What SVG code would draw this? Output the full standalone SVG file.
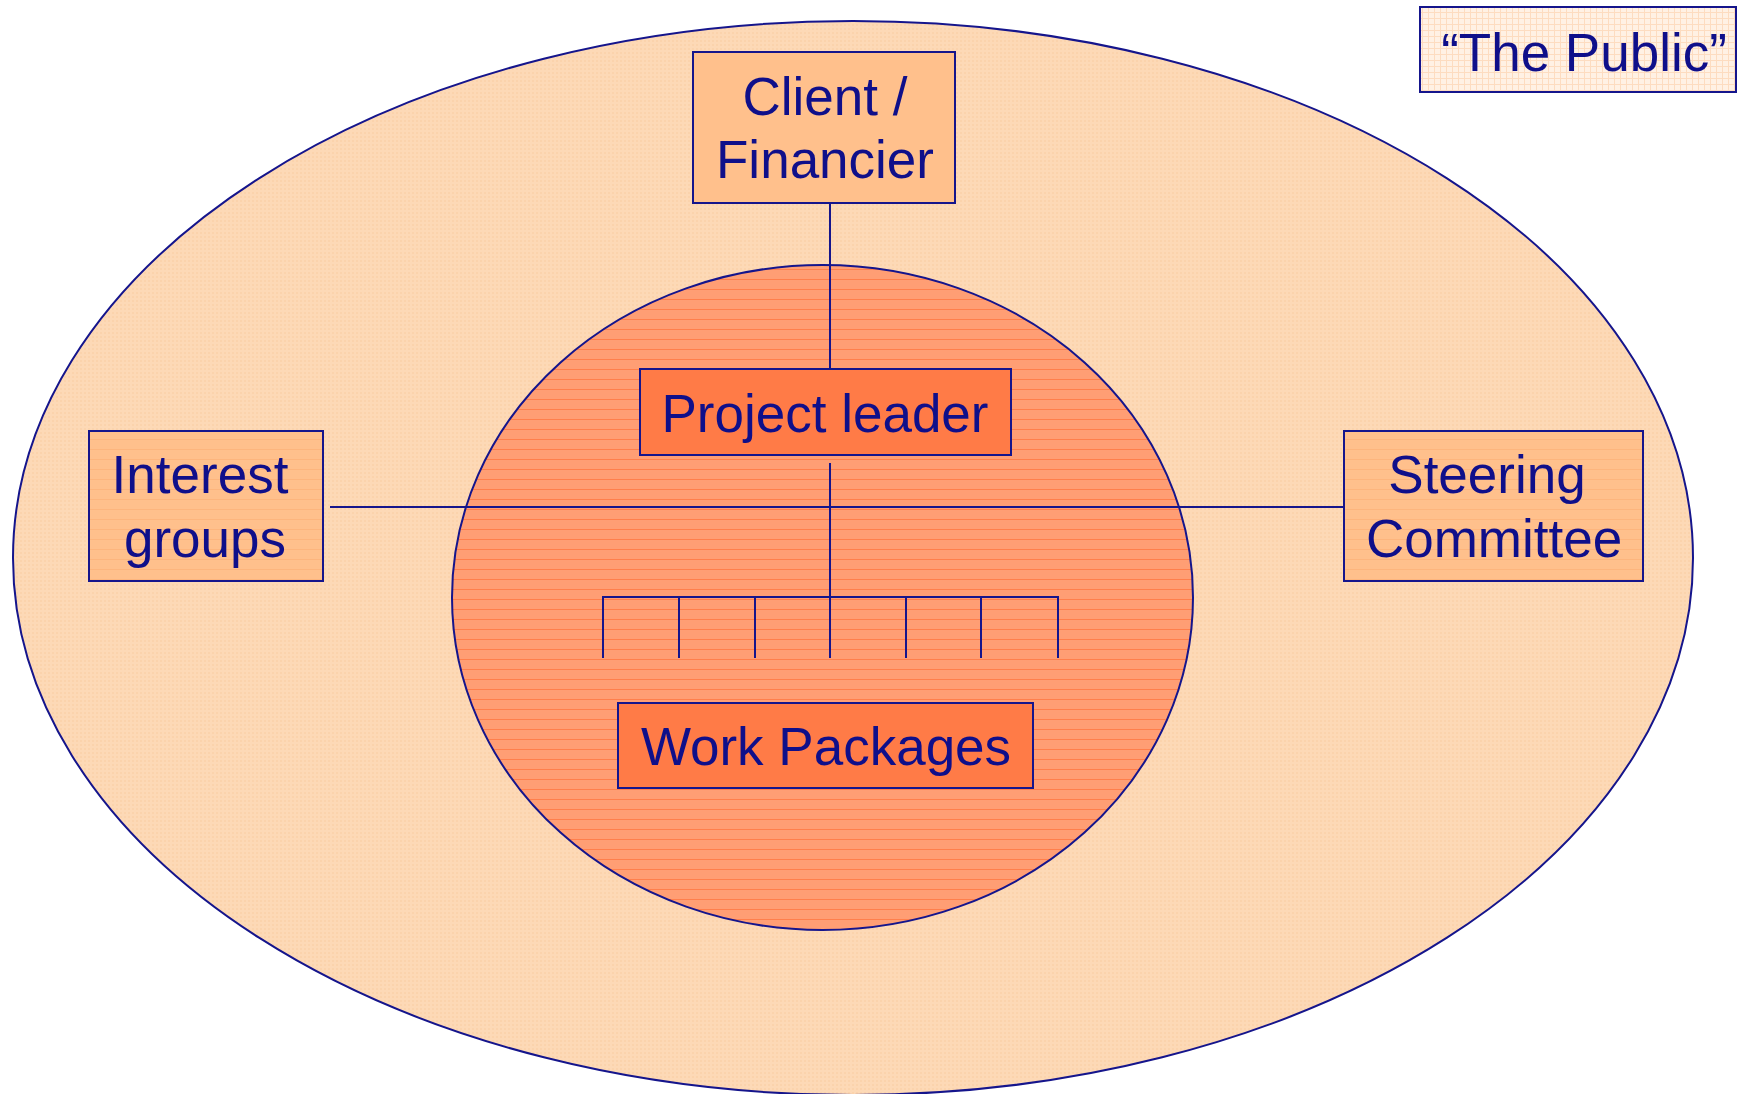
<svg xmlns="http://www.w3.org/2000/svg" width="1737" height="1094" viewBox="0 0 1737 1094">
<defs>
<pattern id="dots" width="4" height="4" patternUnits="userSpaceOnUse">
<rect width="4" height="4" fill="#FDD9B6"/>
<rect width="2" height="2" fill="#FBD3AC"/>
</pattern>
<pattern id="stripes" width="10" height="10" patternUnits="userSpaceOnUse">
<rect width="10" height="10" fill="#FF9E74"/>
<rect y="9" width="10" height="1" fill="#FF7F4C"/>
</pattern>
<pattern id="lightstripes" width="10" height="10" patternUnits="userSpaceOnUse">
<rect width="10" height="10" fill="#FFC08C"/>
<rect y="9" width="10" height="1" fill="#FDB57D"/>
</pattern>
<pattern id="grid" width="6" height="6" patternUnits="userSpaceOnUse">
<rect width="6" height="6" fill="#FFF1E4"/>
<rect width="6" height="1" fill="#FDDCC0"/>
<rect width="1" height="6" fill="#FDDCC0"/>
</pattern>
</defs>
<style>
.txt{font-family:"Liberation Sans",Arial,sans-serif;font-size:53px;fill:#0F0F8A;text-anchor:middle}
.line{stroke:#15158C;stroke-width:2;fill:none}
.box{stroke:#15158C;stroke-width:2}
</style>
<rect width="1737" height="1094" fill="#FFFFFF"/>
<g id="public-area">
<ellipse cx="853" cy="558" rx="840" ry="537" fill="url(#dots)" stroke="#15158C" stroke-width="2"/>
</g>
<g id="project-area">
<ellipse cx="822.5" cy="597.5" rx="370.5" ry="332.5" fill="url(#stripes)" stroke="#15158C" stroke-width="2"/>
</g>
<g id="connectors">
<line class="line" x1="830" y1="203" x2="830" y2="369"/>
<line class="line" x1="830" y1="463" x2="830" y2="658"/>
<line class="line" x1="330" y1="507" x2="1344" y2="507"/>
<polyline class="line" points="603,658 603,597 1058,597 1058,658"/>
<line class="line" x1="679" y1="597" x2="679" y2="658"/>
<line class="line" x1="755" y1="597" x2="755" y2="658"/>
<line class="line" x1="906" y1="597" x2="906" y2="658"/>
<line class="line" x1="981" y1="597" x2="981" y2="658"/>
</g>
<g id="the-public">
<rect class="box" x="1420" y="7" width="316" height="85" fill="url(#grid)"/>
<text class="txt" x="1584" y="71">“The Public”</text>
</g>
<g id="client-financier">
<rect class="box" x="693" y="52" width="262" height="151" fill="#FFC08C"/>
<text class="txt" x="825" y="115">Client /</text>
<text class="txt" x="825" y="178">Financier</text>
</g>
<g id="project-leader">
<rect class="box" x="640" y="369" width="371" height="86" fill="#FF7B47"/>
<text class="txt" x="825" y="432">Project leader</text>
</g>
<g id="interest-groups">
<rect class="box" x="89" y="431" width="234" height="150" fill="url(#lightstripes)"/>
<text class="txt" x="200" y="493">Interest</text>
<text class="txt" x="205" y="557">groups</text>
</g>
<g id="steering-committee">
<rect class="box" x="1344" y="431" width="299" height="150" fill="url(#lightstripes)"/>
<text class="txt" x="1487" y="493">Steering</text>
<text class="txt" x="1494" y="557">Committee</text>
</g>
<g id="work-packages">
<rect class="box" x="618" y="703" width="415" height="85" fill="#FF7B47"/>
<text class="txt" x="826" y="765">Work Packages</text>
</g>
</svg>
